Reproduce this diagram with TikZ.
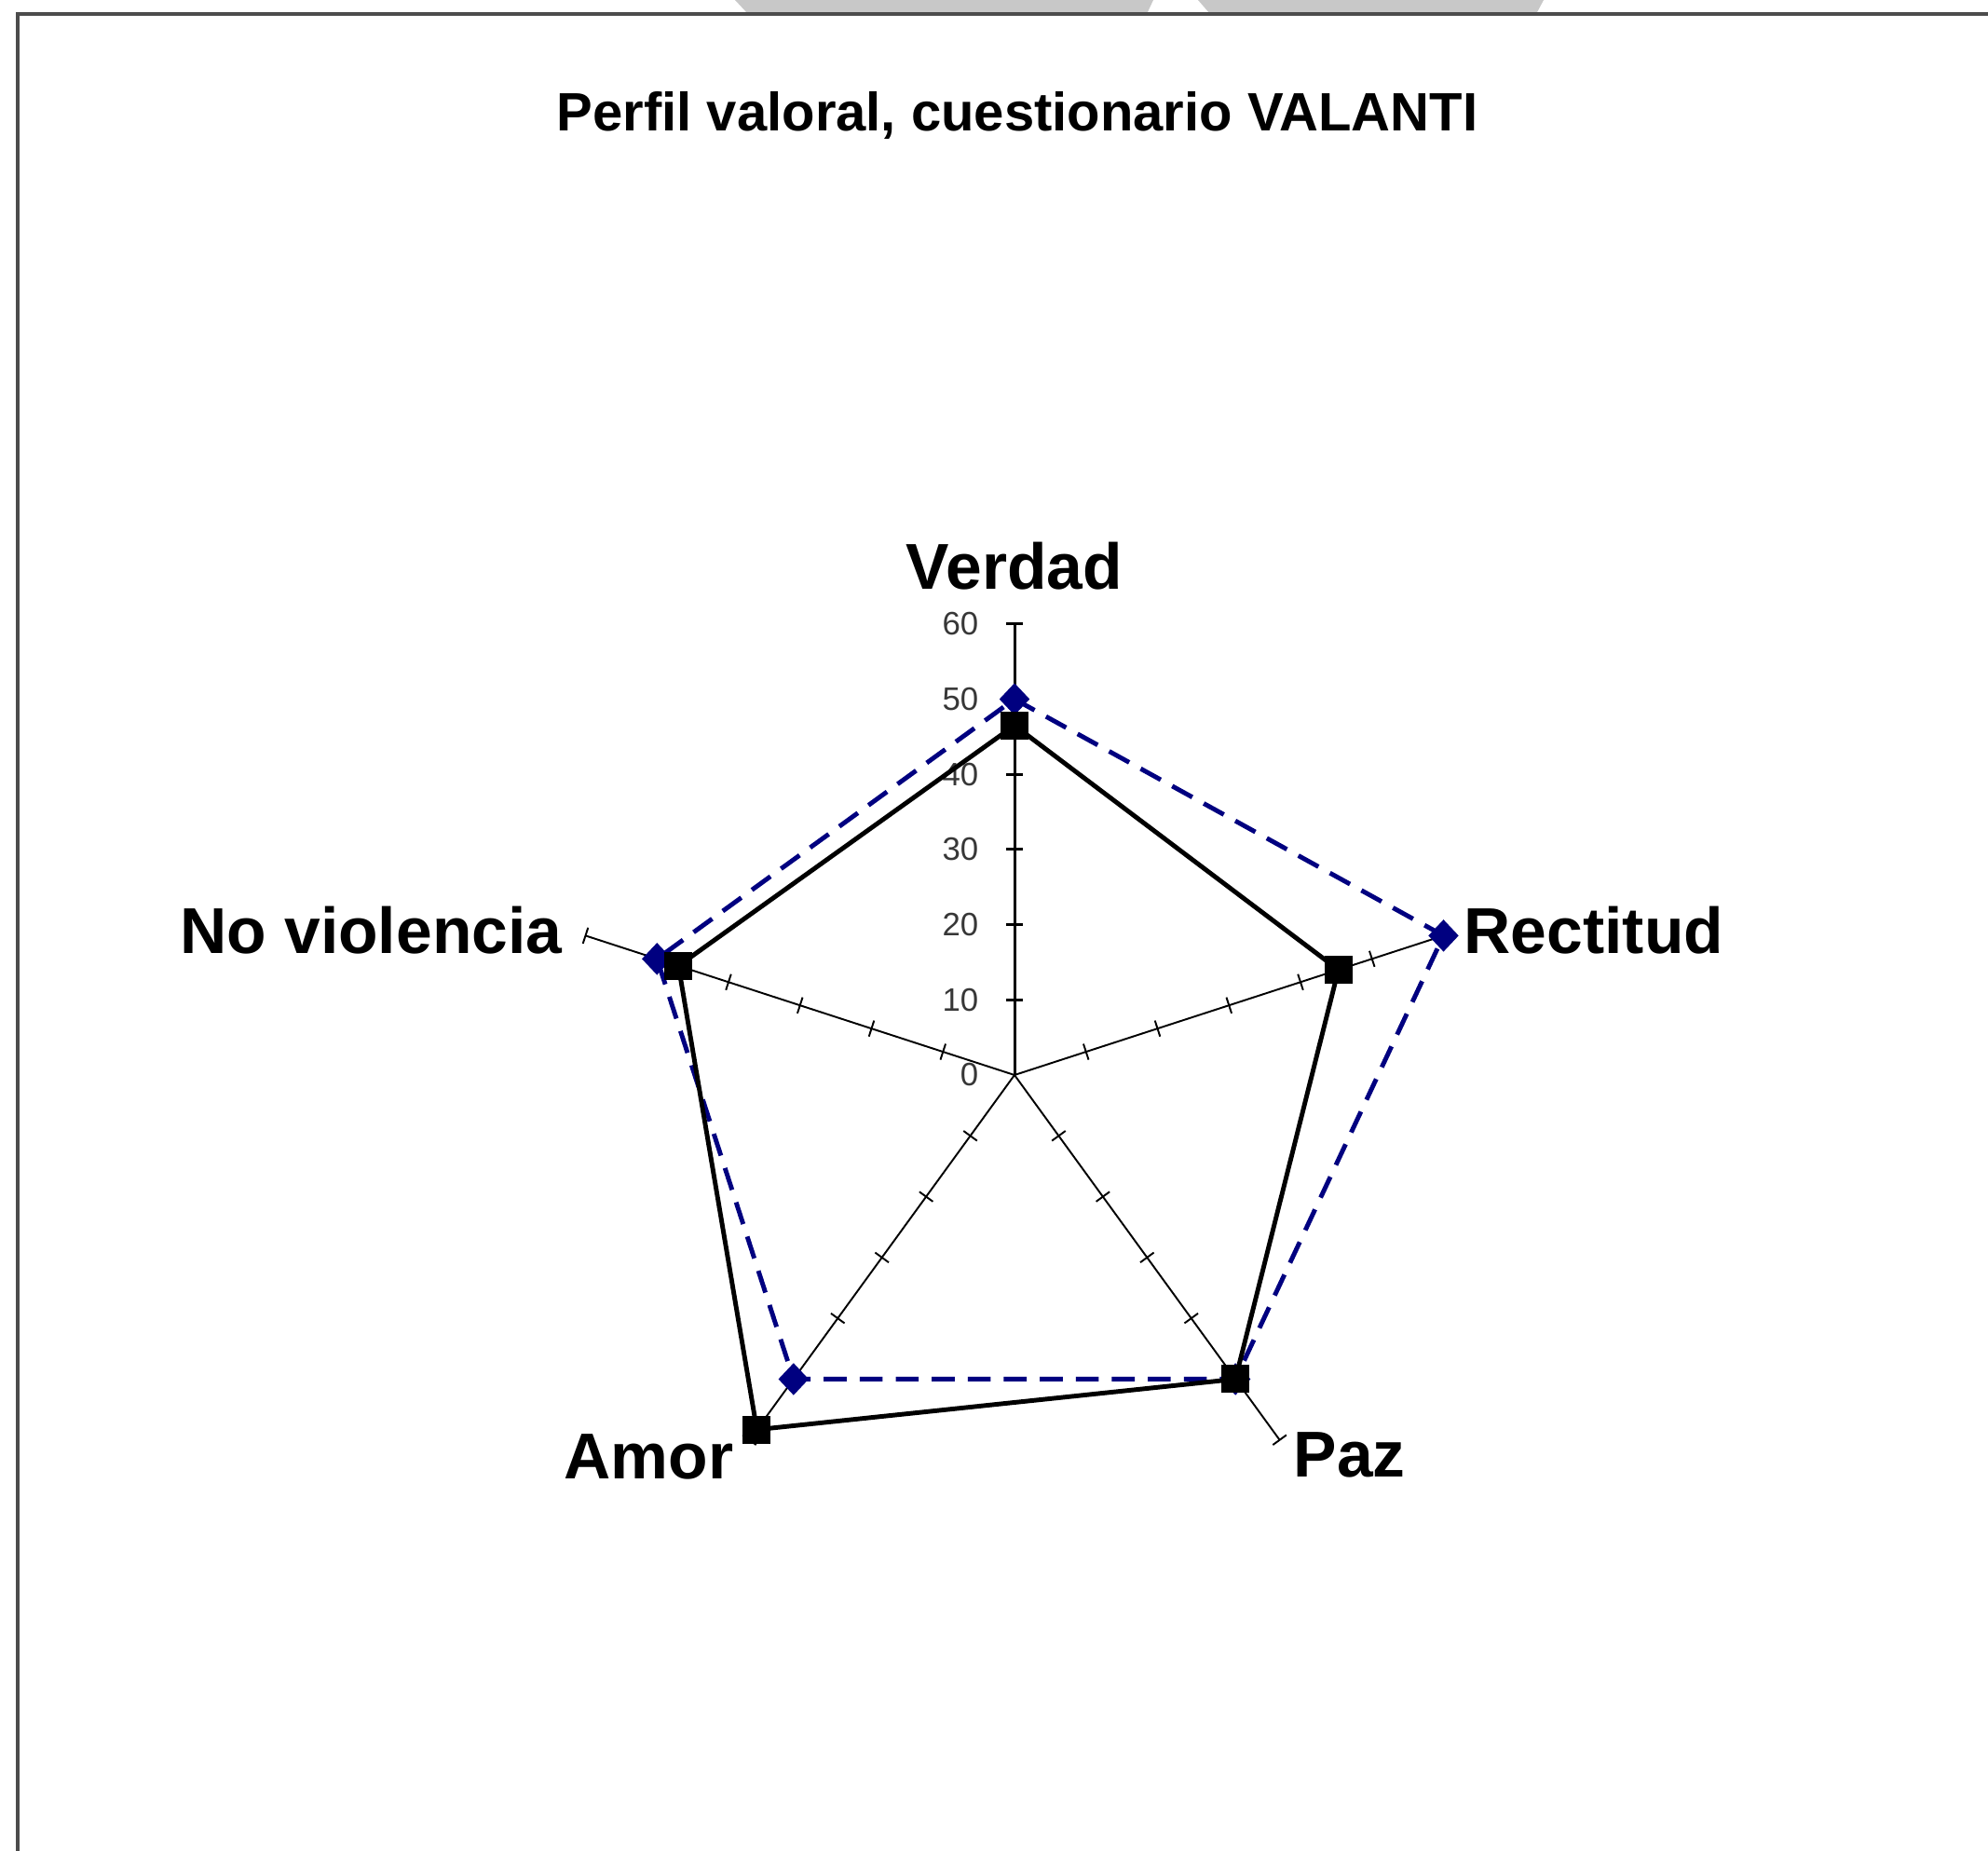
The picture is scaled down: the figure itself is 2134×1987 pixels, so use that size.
\documentclass[tikz,border=0pt]{standalone}
\usepackage{fontspec}
\setmainfont{Liberation Sans}
\usetikzlibrary{shapes.geometric,calc}
\definecolor{navyblue}{RGB}{0,0,128}
\definecolor{tickgray}{RGB}{55,55,55}
\definecolor{tabgray}{RGB}{200,200,200}
\begin{document}
\begin{tikzpicture}[x=0.1mm,y=-0.1mm,
  axisline/.style={line width=0.55pt,black},
  mainaxis/.style={line width=0.85pt,black},
  tickmark/.style={line width=0.55pt,black},
  seriesA/.style={navyblue,line width=1.4pt,dash pattern=on 7pt off 4pt},
  seriesB/.style={black,line width=1.4pt},
  diamark/.style={diamond,fill=navyblue,inner sep=0pt,minimum width=3.3mm,minimum height=3.5mm},
  sqmark/.style={rectangle,fill=black,inner sep=0pt,minimum size=3.0mm},
  axlabel/.style={font=\bfseries\fontsize{19.8}{23}\selectfont,inner sep=0pt},
  ticklabel/.style={font=\fontsize{9.9}{11}\selectfont,text=tickgray,inner sep=0pt,anchor=east},
  titlestyle/.style={font=\bfseries\fontsize{16.5}{20}\selectfont,inner sep=0pt,anchor=base},
  framestyle/.style={line width=0.9pt,black!70}
]
\def\u{8.07}
\useasboundingbox (0,0) rectangle (2134,1987);
\fill[white] (0,0) rectangle (2134,1987);
% grey tabs at the top
\fill[tabgray] (789,0) -- (1238,0) -- (1231,15) -- (803,15) -- cycle;
\fill[tabgray] (1286,0) -- (1657,0) -- (1649,15) -- (1299,15) -- cycle;
% frame
\draw[framestyle] (19,1987) -- (19,15) -- (2134,15);
% title
\node[titlestyle] (title) at (1092,140) {Perfil valoral, cuestionario VALANTI};

\begin{scope}[shift={(1089,1154)}]
  \coordinate (O) at (0,0);
  % secondary axes
  \foreach \a/\n in {-18/R,54/P,126/A,198/N}{
    \coordinate (ax\n) at (\a:{60*\u});
    \draw[axisline] (O) -- (ax\n);
    \foreach \v in {10,20,30,40,50,60}{
      \draw[tickmark] (\a:{\v*\u}) ++(\a+90:9) -- ++(\a-90:18);
    }
  }
  % main value axis (Verdad)
  \coordinate (axV) at (-90:{60*\u});
  \draw[mainaxis] (O) -- (axV);
  \foreach \v in {10,20,30,40,50,60}{
    \draw[mainaxis] (-9,{-\v*\u}) -- (9,{-\v*\u});
  }
  \foreach \v in {0,10,20,30,40,50,60}{
    \node[ticklabel] (t\v) at (-38,{-\v*\u}) {\v};
  }
  % series A (blue dashed, diamonds)
  \coordinate (bV) at (-90:{50*\u});
  \coordinate (bR) at (-18:{60*\u});
  \coordinate (bP) at (54:{50*\u});
  \coordinate (bA) at (126:{50*\u});
  \coordinate (bN) at (198:{50*\u});
  \draw[seriesA] (bV) -- (bR) -- (bP) -- (bA) -- (bN) -- cycle;
  \foreach \n in {V,R,P,A,N}{
    \node[diamark] (mb\n) at (b\n) {};
  }
  % series B (black solid, squares)
  \coordinate (kV) at (-90:{46.5*\u});
  \coordinate (kR) at (-18:{45.3*\u});
  \coordinate (kP) at (54:{50*\u});
  \coordinate (kA) at (126:{58.3*\u});
  \coordinate (kN) at (198:{47*\u});
  \draw[seriesB] (kV) -- (kR) -- (kP) -- (kA) -- (kN) -- cycle;
  \foreach \n in {V,R,P,A,N}{
    \node[sqmark] (mk\n) at (k\n) {};
  }
\end{scope}

% category labels
\node[axlabel,anchor=base] (lV) at (1089,632) {Verdad};
\node[axlabel,anchor=base west] (lR) at (1571,1023) {Rectitud};
\node[axlabel,anchor=base east] (lN) at (604,1023) {No violencia};
\node[axlabel,anchor=base east] (lA) at (788,1587) {Amor};
\node[axlabel,anchor=base west] (lP) at (1388,1585) {Paz};
\end{tikzpicture}
\end{document}
